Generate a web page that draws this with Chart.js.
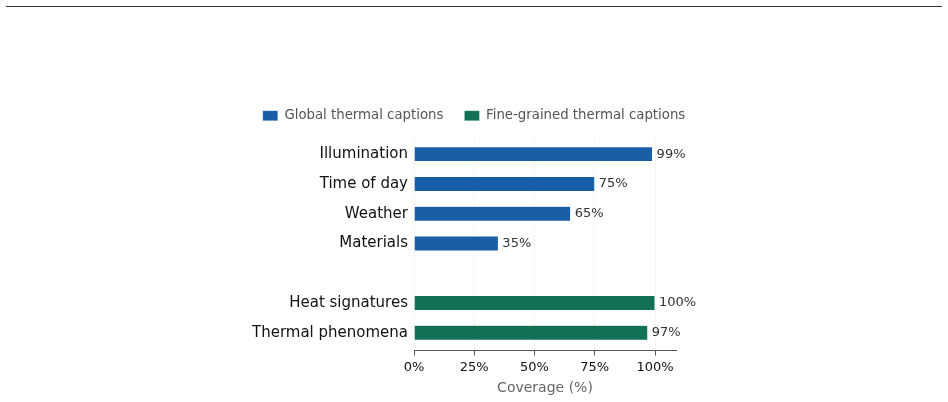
<!DOCTYPE html>
<html>
<head>
<meta charset="utf-8">
<script src="https://cdn.jsdelivr.net/npm/chart.js@4.4.0/dist/chart.umd.min.js"></script>
<style>
  body { margin: 0; background: #fff; }
  .wrap { position: relative; width: 948px; height: 402px; }
  .rule { position: absolute; left: 6px; right: 6px; top: 6px; height: 0; border-top: 1px solid #333; }
  canvas { position: absolute; left: 0; top: 0; }
</style>
</head>
<body>
<div class="wrap">
  <div class="rule"></div>
  <canvas id="myChart" width="948" height="402"></canvas>
</div>
<script>
const labels = ['Illumination', 'Time of day', 'Weather', 'Materials', '', 'Heat signatures', 'Thermal phenomena']
const globalValues = [99, 75, 65, 35, null, null, null]
const fineValues = [null, null, null, null, null, 100, 97]
const xTicks = [0, 25, 50, 75, 100]

// value labels at the end of each bar
const valueLabels = {
  id: 'valueLabels',
  afterDatasetsDraw(chart) {
    const ctx = chart.ctx
    ctx.save()
    ctx.font = '13px "DejaVu Sans"'
    ctx.fillStyle = '#333'
    ctx.textBaseline = 'middle'
    chart.data.datasets.forEach((ds, i) => {
      chart.getDatasetMeta(i).data.forEach((bar, j) => {
        const v = ds.data[j]
        if (v == null) return
        ctx.fillText(v + '%', bar.x + 4, bar.y)
      })
    })
    ctx.restore()
  }
}

// legend: one row, centred on the whole canvas, a bit more room below it
const legendFix = {
  id: 'legendFix',
  beforeInit(chart) {
    const fit = chart.legend.fit
    chart.legend.fit = function () {
      this.maxWidth = chart.width
      fit.bind(chart.legend)()
      this.height += 7
    }
  },
  afterLayout(chart) {
    chart.legend.left = 0
    chart.legend.right = chart.width
    chart.legend.width = chart.width
  }
}

const ctx = document.getElementById('myChart').getContext('2d')
const myChart = new Chart(ctx, {
  type: 'bar',
  data: {
    labels: labels,
    datasets: [{
      label: 'Global thermal captions',
      data: globalValues,
      backgroundColor: '#1a5ea7',
      borderColor: 'rgba(255,255,255,0.5)',
      borderWidth: 0.5,
      grouped: false,
      barPercentage: 0.5,
      categoryPercentage: 1
    }, {
      label: 'Fine-grained thermal captions',
      data: fineValues,
      backgroundColor: '#117056',
      borderColor: 'rgba(255,255,255,0.5)',
      borderWidth: 0.5,
      grouped: false,
      barPercentage: 0.5,
      categoryPercentage: 1
    }]
  },
  options: {
    indexAxis: 'y',
    responsive: false,
    animation: false,
    layout: { padding: { left: 0, right: 272, top: 88, bottom: 5 } },
    plugins: {
      legend: {
        position: 'top',
        labels: {
          boxWidth: 15,
          boxHeight: 10,
          padding: 21,
          color: '#555',
          font: { family: 'DejaVu Sans', size: 13.3 }
        }
      },
      tooltip: { enabled: false }
    },
    scales: {
      x: {
        min: 0,
        max: 108.7,
        afterBuildTicks(scale) {
          scale.ticks = xTicks.map(v => ({ value: v }))
        },
        ticks: {
          color: '#111',
          padding: 4,
          font: { family: 'DejaVu Sans', size: 13 },
          callback: v => v + '%'
        },
        grid: {
          color: '#ececec',
          tickColor: '#555',
          tickLength: 5,
          tickWidth: 1
        },
        border: { color: '#555', width: 1, dash: [2, 2] },
        title: {
          display: true,
          text: 'Coverage (%)',
          color: '#666',
          padding: { top: 1, bottom: 0 },
          font: { family: 'DejaVu Sans', size: 14 }
        }
      },
      y: {
        afterFit(scale) { scale.width = 414 },
        // leave a little empty space under the last bar, above the x axis
        afterBuildTicks(scale) { scale._valueRange = labels.length + 0.1 },
        grid: { display: false, drawTicks: false },
        border: { display: false },
        ticks: {
          color: '#111',
          padding: 6,
          font: { family: 'DejaVu Sans', size: 15 }
        }
      }
    }
  },
  plugins: [valueLabels, legendFix]
})
</script>
</body>
</html>
